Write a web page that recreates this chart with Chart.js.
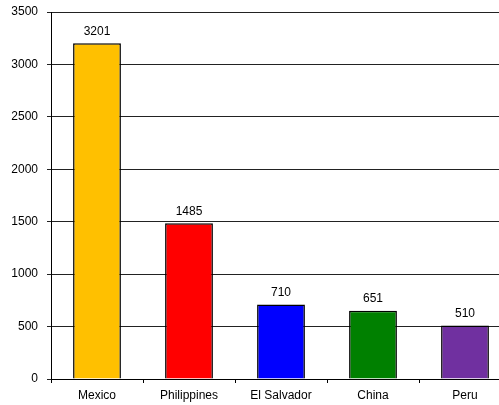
<!DOCTYPE html>
<html>
<head>
<meta charset="utf-8">
<script src="https://cdn.jsdelivr.net/npm/chart.js@4"></script>
<style>
  html, body { margin: 0; padding: 0; background: #fff; overflow: hidden; }
  #wrap { position: relative; width: 511px; height: 405px; }
</style>
</head>
<body>
<div id="wrap"><canvas id="chart"></canvas></div>
<script>
const countries = ["Mexico", "Philippines", "El Salvador", "China", "Peru"];
const counts = [3201, 1485, 710, 651, 510];
const barColors = ["#FFC000", "#FF0000", "#0000FF", "#008000", "#7030A0"];
const yTicks = [0, 500, 1000, 1500, 2000, 2500, 3000, 3500];

const font = { family: "'Liberation Sans', Arial, sans-serif", size: 12 };

// value labels above each bar
const barLabels = {
  id: "barLabels",
  afterDatasetsDraw(chart) {
    const ctx = chart.ctx;
    const meta = chart.getDatasetMeta(0);
    ctx.save();
    ctx.font = font.size + "px " + font.family;
    ctx.fillStyle = "#000";
    ctx.textAlign = "center";
    ctx.textBaseline = "middle";
    meta.data.forEach((bar, i) => {
      ctx.fillText(String(counts[i]), bar.x, bar.y - 12);
    });
    ctx.restore();
  }
};

new Chart(document.getElementById("chart"), {
  type: "bar",
  data: {
    labels: countries,
    datasets: [{
      data: counts,
      backgroundColor: barColors,
      borderColor: "#000",
      borderWidth: 1.5,
      categoryPercentage: 1,
      barPercentage: 0.52
    }]
  },
  options: {
    responsive: true,
    maintainAspectRatio: false,
    animation: false,
    layout: { padding: { top: 12, left: 0, right: 0, bottom: 0 } },
    plugins: { legend: { display: false }, tooltip: { enabled: false } },
    scales: {
      x: {
        offset: true,
        grid: { display: true, drawOnChartArea: false, offset: true, drawTicks: true, tickLength: 4, color: "#000" },
        border: { display: true, color: "#000", width: 1 },
        ticks: { color: "#000", font: font, padding: 5, maxRotation: 0 },
        afterFit(scale) { scale.height = 26; }
      },
      y: {
        min: 0,
        max: 3500,
        afterBuildTicks(scale) { scale.ticks = yTicks.map(v => ({ value: v })); },
        grid: { color: "#222", drawTicks: true, tickLength: 4 },
        border: { display: true, color: "#000", width: 1 },
        ticks: { color: "#000", font: font, padding: 9, callback: v => String(v) },
        afterFit(scale) {
          scale.width = 51;
          scale.paddingTop = 6;
          scale.paddingBottom = 6;
        }
      }
    }
  },
  plugins: [barLabels]
});
</script>
</body>
</html>
